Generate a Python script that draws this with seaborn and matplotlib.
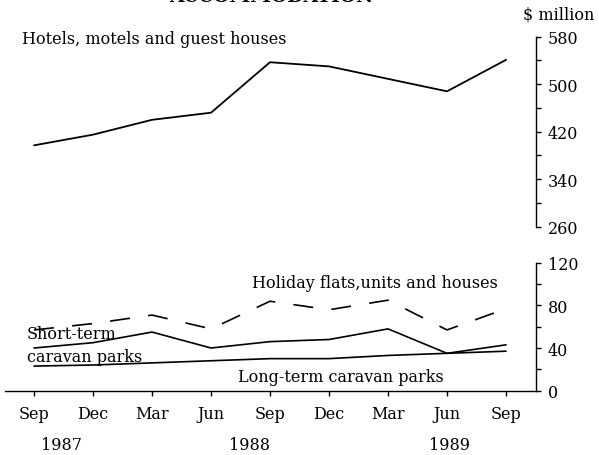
import numpy as np
import pandas as pd
import matplotlib.pyplot as plt
import seaborn as sns

# Quarterly takings, $ million
quarters = ['Sep', 'Dec', 'Mar', 'Jun', 'Sep', 'Dec', 'Mar', 'Jun', 'Sep']
years = ['1987', '1988', '1989']
year_pos = [0.47, 3.66, 7.04]

hotels = [397, 415, 440, 452, 537, 530, 509, 488, 541]
holiday = [57, 63, 71, 58, 84, 76, 85, 57, 77]
short_term = [40, 45, 55, 40, 46, 48, 58, 35, 43]
long_term = [23, 24, 26, 28, 30, 30, 33, 35, 37]

idx = np.arange(len(quarters))
df = pd.DataFrame({'idx': idx, 'hotels': hotels, 'holiday': holiday,
                   'short_term': short_term, 'long_term': long_term})

sns.set_style('ticks')
plt.rcParams['font.family'] = ['DejaVu Serif']
plt.rcParams['text.color'] = 'black'
plt.rcParams['axes.edgecolor'] = 'black'
fs = 11.5

fig = plt.figure(figsize=(5.99, 4.56), dpi=100)
left, width = 5 / 599, 531 / 599
ax_top = fig.add_axes([left, 0.5007, width, 0.4166])
ax_bot = fig.add_axes([left, 0.1414, width, 0.2797])

xmin, xmax = -0.4915, 8.508

# top panel
sns.lineplot(data=df, x='idx', y='hotels', color='black', lw=1.3, ax=ax_top)
ax_top.set_ylim(260, 580)
ax_top.set_xlim(xmin, xmax)
ax_top.set_yticks([260, 340, 420, 500, 580])
ax_top.set_yticks([300, 380, 460, 540], minor=True)
ax_top.yaxis.tick_right()
ax_top.set_xticks([])
for s in ['top', 'left', 'bottom']:
    ax_top.spines[s].set_visible(False)
ax_top.text(-0.21, 569, 'Hotels, motels and guest houses', fontsize=fs, va='baseline')

# bottom panel
sns.lineplot(data=df, x='idx', y='holiday', color='black', lw=1.2, ax=ax_bot)
ax_bot.lines[-1].set_linestyle((0, (12, 11)))
sns.lineplot(data=df, x='idx', y='short_term', color='black', lw=1.2, ax=ax_bot)
sns.lineplot(data=df, x='idx', y='long_term', color='black', lw=1.2, ax=ax_bot)
ax_bot.set_ylim(0, 120)
ax_bot.set_xlim(xmin, xmax)
ax_bot.set_yticks([0, 40, 80, 120])
ax_bot.set_yticks([20, 60, 100], minor=True)
ax_bot.yaxis.tick_right()
ax_bot.set_xticks(idx)
ax_bot.set_xticklabels(quarters)
for s in ['top', 'left']:
    ax_bot.spines[s].set_visible(False)

ax_bot.text(3.69, 97.5, 'Holiday flats,units and houses', fontsize=fs, va='baseline')
ax_bot.text(-0.124, 49.5, 'Short-term', fontsize=fs, va='baseline')
ax_bot.text(-0.124, 28.2, 'caravan parks', fontsize=fs, va='baseline')
ax_bot.text(3.45, 9.2, 'Long-term caravan parks', fontsize=fs, va='baseline')

for y, yp in zip(years, year_pos):
    ax_bot.text(yp, -55, y, fontsize=fs, ha='center', va='baseline')

for ax in (ax_top, ax_bot):
    ax.set_xlabel('')
    ax.set_ylabel('')
    ax.patch.set_visible(False)
    for s in ax.spines.values():
        s.set_linewidth(1.0)
    ax.tick_params(which='both', direction='out', length=3.6, width=1.0,
                   labelsize=fs, pad=5, colors='black')
ax_bot.tick_params(axis='x', pad=7)

fig.text(559 / 599, 1 - 19 / 456, '$ million', fontsize=fs, ha='center', va='baseline')
# title sits mostly above the top edge, as in the scanned original
fig.text(271 / 599, 1 - 2 / 456, 'ACCOMMODATION', fontsize=13.5, fontweight='bold',
         ha='center', va='baseline')

fig.savefig('out.png', dpi=100)
